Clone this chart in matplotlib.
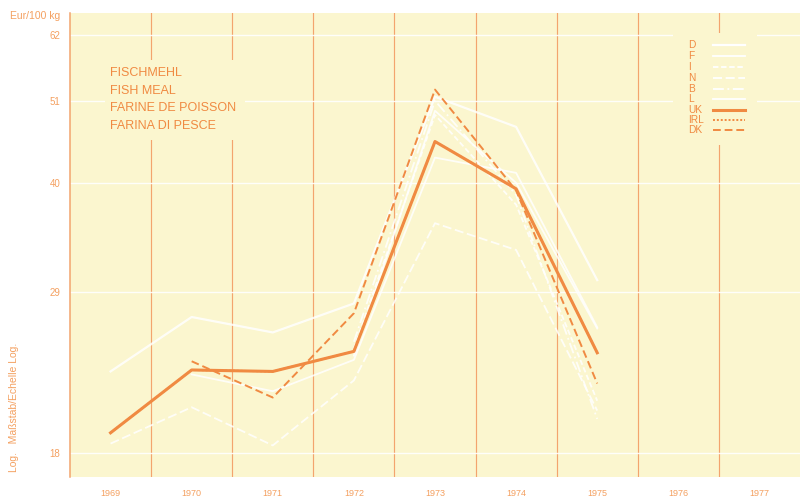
import numpy as np
import matplotlib
matplotlib.use("Agg")
import matplotlib.pyplot as plt
from matplotlib.lines import Line2D
from matplotlib.patches import Rectangle

years = [1969, 1970, 1971, 1972, 1973, 1974, 1975]
nan = np.nan
D  = [22.9, 26.9, 25.7, 28.0, 51.6, 47.2, 30.0]
F  = [nan, 22.7, 21.6, 23.7, 43.1, 41.2, 26.1]
I  = [nan, nan, nan, 24.5, 48.9, 37.5, 21.0]
N  = [18.5, 20.6, 18.4, 22.3, 35.5, 32.8, 20.4]
B  = [nan, nan, nan, 25.0, 51.0, 38.6, 19.9]
L  = [nan, nan, nan, 24.0, 49.5, 40.0, 26.0]
UK = [19.1, 23.0, 22.9, 24.3, 45.2, 39.3, 24.2]
IRL = [19.1, 23.0, 22.9, 24.3, 45.2, 39.3, 24.2]
DK = [nan, 23.6, 21.2, 27.2, 52.7, 39.1, 22.1]

yticks = [18, 29, 40, 51, 62]
xlabels = ["1969", "1970", "1971", "1972", "1973", "1974", "1975", "1976", "1977"]
title_lines = ["FISCHMEHL", "FISH MEAL", "FARINE DE POISSON", "FARINA DI PESCE"]

BG = "#fbf6cf"
ORANGE = "#f08a42"
GRID_OR = "#f3a46e"
TXT = "#f4a060"
WHITE = "#ffffff"

plt.rcParams['font.family'] = ['Liberation Sans', 'DejaVu Sans']

W, H = 801, 501
def fx(px):
    return px / W
def fy(py):
    return 1 - py / H

fig = plt.figure(figsize=(8.01, 5.01), dpi=100)
ax = fig.add_axes([fx(70), fy(477), 730 / W, 464 / H])
ax.set_facecolor(BG)
ax.set_yscale('log')
ax.set_ylim(16.76, 66.1)
ax.set_xlim(1968.5, 1977.5)

for s in ['top', 'right', 'bottom']:
    ax.spines[s].set_visible(False)
ax.spines['left'].set_color(GRID_OR)
ax.spines['left'].set_linewidth(1.1)

for xv in np.arange(1969.5, 1977.5, 1.0):
    ax.axvline(xv, color=GRID_OR, lw=0.85, zorder=1)
for yv in yticks:
    ax.axhline(yv, color=WHITE, lw=1.0, alpha=0.9, zorder=1)

ax.set_yticks(yticks)
ax.set_yticklabels([str(v) for v in yticks])
ax.yaxis.set_minor_locator(matplotlib.ticker.NullLocator())
ax.yaxis.set_minor_formatter(matplotlib.ticker.NullFormatter())
ax.set_xticks(range(1969, 1978))
ax.set_xticklabels(xlabels)
ax.tick_params(axis='both', length=0, labelcolor=TXT, labelsize=7)
ax.tick_params(axis='x', pad=9, labelsize=6.5)
ax.tick_params(axis='y', pad=7)

wstyles = {
    'D': dict(ls='-', lw=1.6),
    'F': dict(ls='-', lw=1.3),
    'I': dict(ls=(0, (3, 1.5)), lw=1.3),
    'N': dict(ls=(0, (5, 2)), lw=1.3),
    'B': dict(ls=(0, (6, 2, 1, 2)), lw=1.3),
    'L': dict(ls='-', lw=1.3),
}
series = {'D': D, 'F': F, 'I': I, 'N': N, 'B': B, 'L': L}
for k, v in series.items():
    ax.plot(years, v, color=WHITE, alpha=0.85, zorder=3, **wstyles[k])

ost = {
    'UK': dict(lw=2.2, ls='-'),
    'IRL': dict(lw=1.4, ls=(0, (1, 1))),
    'DK': dict(lw=1.4, ls=(0, (4, 2))),
}
ax.plot(years, IRL, color=ORANGE, zorder=4, **ost['IRL'])
ax.plot(years, DK, color=ORANGE, zorder=5, **ost['DK'])
ax.plot(years, UK, color=ORANGE, zorder=6, **ost['UK'])

# title block background (hides the vertical line behind it)
fig.patches.append(Rectangle((fx(105), fy(140)), 140 / W, 80 / H, transform=fig.transFigure,
                             facecolor=BG, edgecolor='none', zorder=5))
for i, t in enumerate(title_lines):
    fig.text(fx(110), fy(73 + i * 17.7), t, color=ORANGE, fontsize=9, va='center',
             ha='left', zorder=7)

# legend (manual)
fig.patches.append(Rectangle((fx(673), fy(145)), 84 / W, 112 / H, transform=fig.transFigure,
                             facecolor=BG, edgecolor='none', zorder=5))
labels = list(series.keys()) + ['UK', 'IRL', 'DK']
rows = [45, 56, 67, 78, 89, 99, 110, 120, 130]
for lab, yr in zip(labels, rows):
    fig.text(fx(688), fy(yr), lab, color=ORANGE, fontsize=7.3, va='center', ha='left', zorder=7)
    if lab in wstyles:
        st = dict(color=WHITE, **wstyles[lab])
    else:
        st = dict(color=ORANGE, **ost[lab])
    fig.add_artist(Line2D([fx(713), fx(745)], [fy(yr), fy(yr)], transform=fig.transFigure,
                          zorder=7, **st))

fig.text(fx(10), fy(16), "Eur/100 kg", color=TXT, fontsize=7.5, va='center', ha='left')
fig.text(fx(14), fy(407), "Log.   Maßstab/Echelle Log.", color=TXT, fontsize=7.5,
         rotation=90, va='center', ha='center')

fig.savefig("out.png", dpi=100, facecolor='white')
